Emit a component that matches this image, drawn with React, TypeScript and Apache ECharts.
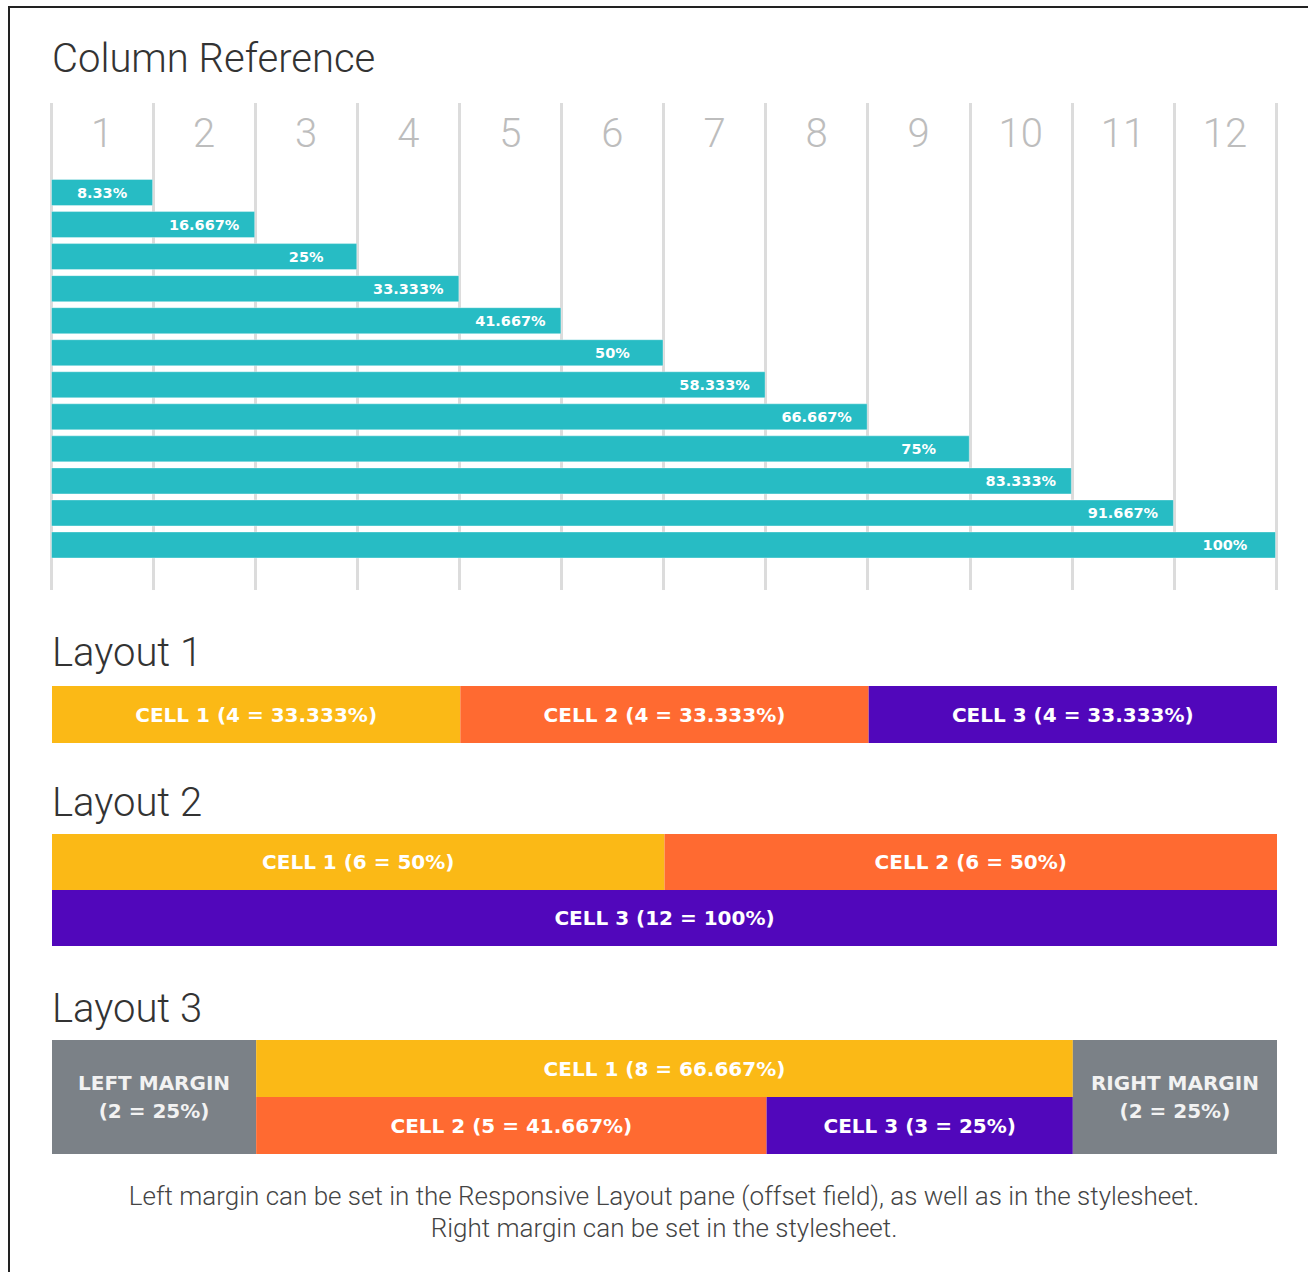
import React, { useEffect, useRef } from 'react';
import * as echarts from 'echarts';

// ---------- data ----------
const columnHeaders = ['1', '2', '3', '4', '5', '6', '7', '8', '9', '10', '11', '12'];
const columnSpans = [1, 2, 3, 4, 5, 6, 7, 8, 9, 10, 11, 12];
const columnPercentLabels = ['8.33%', '16.667%', '25%', '33.333%', '41.667%', '50%', '58.333%', '66.667%', '75%', '83.333%', '91.667%', '100%'];

const layout1Row1Spans = [4, 4, 4];
const layout1Row1Labels = ['CELL 1 (4 = 33.333%)', 'CELL 2 (4 = 33.333%)', 'CELL 3 (4 = 33.333%)'];

const layout2Row1Spans = [6, 6];
const layout2Row1Labels = ['CELL 1 (6 = 50%)', 'CELL 2 (6 = 50%)'];
const layout2Row2Spans = [12];
const layout2Row2Labels = ['CELL 3 (12 = 100%)'];

const layout3Row1Spans = [2, 8, 2];
const layout3Row1Labels = ['LEFT MARGIN\n(2 = 25%)', 'CELL 1 (8 = 66.667%)', 'RIGHT MARGIN\n(2 = 25%)'];
const layout3Row2Spans = [2, 5, 3, 2];
const layout3Row2Labels = ['', 'CELL 2 (5 = 41.667%)', 'CELL 3 (3 = 25%)', ''];

const titles = ['Column Reference', 'Layout 1', 'Layout 2', 'Layout 3'];
const footerLines = [
  'Left margin can be set in the Responsive Layout pane (offset field), as well as in the stylesheet.',
  'Right margin can be set in the stylesheet.',
];

// ---------- styles ----------
const TEAL = '#27bcc4';
const YELLOW = '#fbb916';
const ORANGE = '#ff6a31';
const PURPLE = '#5107bb';
const GRAY = '#7b8187';

const layout1Row1Colors = [YELLOW, ORANGE, PURPLE];
const layout2Row1Colors = [YELLOW, ORANGE];
const layout2Row2Colors = [PURPLE];
const layout3Row1Colors = [GRAY, YELLOW, GRAY];
const layout3Row2Colors = [GRAY, ORANGE, PURPLE, GRAY];

const GRID_LEFT = 51;
const GRID_WIDTH = 1225;

type Row = { spans: number[]; labels: string[]; colors: string[] };

function buildLayoutSeries(rows: Row[], axisIndex: number, stack: string) {
  const maxSlots = Math.max(...rows.map((r) => r.spans.length));
  const series: any[] = [];
  for (let k = 0; k < maxSlots; k++) {
    series.push({
      type: 'bar',
      stack,
      xAxisIndex: axisIndex,
      yAxisIndex: axisIndex,
      barWidth: '100%',
      barCategoryGap: 0,
      label: {
        show: true,
        position: 'inside',
        color: '#ffffff',
        fontFamily: 'DejaVu Sans',
        fontWeight: 'bold',
        fontSize: 20,
        lineHeight: 28,
      },
      data: rows.map((r) => {
        if (k >= r.spans.length) return '-';
        const text = r.labels[k];
        const multi = text.indexOf('\n') >= 0;
        return {
          value: r.spans[k],
          itemStyle: { color: r.colors[k] },
          label: multi
            ? { formatter: text, position: ['50%', '100%'], align: 'center', verticalAlign: 'middle', color: '#f2f2f2' }
            : { formatter: text, show: text !== '' },
        };
      }),
    });
  }
  return series;
}

export default function App() {
  const ref = useRef<HTMLDivElement>(null);

  useEffect(() => {
    if (!ref.current) return;
    const chart = echarts.init(ref.current, undefined, { renderer: 'svg' });

    const layoutGrids = [
      { top: 686, height: 57 },
      { top: 834, height: 112 },
      { top: 1040, height: 114 },
    ];

    const grids: any[] = [
      { left: GRID_LEFT, width: GRID_WIDTH, top: 103, height: 487 },
      { left: GRID_LEFT, width: GRID_WIDTH, top: 176.5, height: 384.5 },
      ...layoutGrids.map((g) => ({ left: 52, width: 1225, top: g.top, height: g.height })),
    ];

    const hiddenValueX = (gridIndex: number) => ({
      type: 'value', gridIndex, min: 0, max: 12, interval: 1, show: false,
    });

    const xAxis: any[] = [
      {
        type: 'value', gridIndex: 0, min: 0, max: 12, interval: 1,
        axisLine: { show: false }, axisTick: { show: false }, axisLabel: { show: false },
        splitLine: { show: true, lineStyle: { color: '#dcdcdc', width: 3 } },
      },
      hiddenValueX(1),
      hiddenValueX(2),
      hiddenValueX(3),
      hiddenValueX(4),
      {
        type: 'category', gridIndex: 0, position: 'top', data: columnHeaders,
        axisLine: { show: false }, axisTick: { show: false }, splitLine: { show: false },
        axisLabel: {
          inside: true, margin: 30, verticalAlign: 'middle', color: '#bdbdbd',
          fontSize: 40, fontFamily: 'Roboto', fontWeight: 300,
        },
      },
    ];

    const yAxis: any[] = [
      { type: 'value', gridIndex: 0, show: false },
      { type: 'category', gridIndex: 1, inverse: true, show: false, data: columnHeaders },
      { type: 'category', gridIndex: 2, inverse: true, show: false, data: ['r1'] },
      { type: 'category', gridIndex: 3, inverse: true, show: false, data: ['r1', 'r2'] },
      { type: 'category', gridIndex: 4, inverse: true, show: false, data: ['r1', 'r2'] },
    ];

    const halfColumn = GRID_WIDTH / 12 / 2;

    const series: any[] = [
      {
        type: 'bar',
        xAxisIndex: 1,
        yAxisIndex: 1,
        barWidth: 27,
        itemStyle: { color: TEAL, borderColor: 'rgba(255,255,255,0.35)', borderWidth: 1 },
        label: {
          show: true,
          position: ['100%', '50%'],
          offset: [-halfColumn, 0],
          align: 'center',
          verticalAlign: 'middle',
          color: '#ffffff',
          fontFamily: 'DejaVu Sans',
          fontWeight: 'bold',
          fontSize: 14.5,
          formatter: (p: any) => columnPercentLabels[p.dataIndex],
        },
        data: columnSpans,
      },
      ...buildLayoutSeries(
        [{ spans: layout1Row1Spans, labels: layout1Row1Labels, colors: layout1Row1Colors }],
        2, 'l1'),
      ...buildLayoutSeries(
        [
          { spans: layout2Row1Spans, labels: layout2Row1Labels, colors: layout2Row1Colors },
          { spans: layout2Row2Spans, labels: layout2Row2Labels, colors: layout2Row2Colors },
        ],
        3, 'l2'),
      ...buildLayoutSeries(
        [
          { spans: layout3Row1Spans, labels: layout3Row1Labels, colors: layout3Row1Colors },
          { spans: layout3Row2Spans, labels: layout3Row2Labels, colors: layout3Row2Colors },
        ],
        4, 'l3'),
    ];

    const titleYs = [58, 652, 802, 1008];
    const textEl = (text: string, x: number, y: number, size: number, color: string, align: string, weight: any) => ({
      type: 'text',
      x, y,
      silent: true,
      style: {
        text,
        fill: color,
        fontSize: size,
        fontFamily: 'Roboto',
        fontWeight: weight,
        align, textAlign: align,
        verticalAlign: 'middle', textVerticalAlign: 'middle',
      },
    });

    const graphic: any[] = [
      {
        type: 'rect',
        silent: true,
        shape: { x: 9, y: 7, width: 1400, height: 1400 },
        style: { fill: 'none', stroke: '#222222', lineWidth: 2 },
      },
      ...titles.map((t, i) => textEl(t, 52, titleYs[i], 40, '#333333', 'left', 300)),
      ...footerLines.map((t, i) => textEl(t, 664, 1196 + i * 32, 26, '#444444', 'center', 300)),
    ];

    chart.setOption({
      animation: false,
      backgroundColor: '#ffffff',
      grid: grids,
      xAxis,
      yAxis,
      series,
      graphic,
    });

    return () => chart.dispose();
  }, []);

  return (
    <div
      ref={ref}
      style={{ position: 'absolute', left: 0, top: 0, width: 1308, height: 1272 }}
    />
  );
}
